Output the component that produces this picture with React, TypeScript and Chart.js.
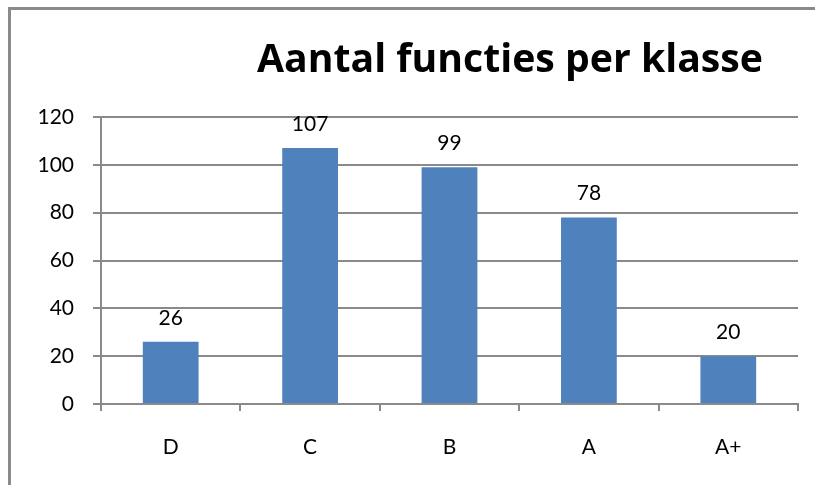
import React, { useEffect, useRef } from "react";
import { Chart, registerables } from "chart.js";

Chart.register(...registerables);

const categories = ["D", "C", "B", "A", "A+"];
const counts = [26, 107, 99, 78, 20];
const titleText = "Aantal functies per klasse";
const yMin = 0;
const yMax = 120;
const yStep = 20;

const FONT = "Lato, 'Open Sans', 'Noto Sans', sans-serif";
const TITLE_FONT = "'Open Sans', 'Noto Sans', sans-serif";
const GRID = "#8a8a8a";

const framePlugin = {
  id: "frame",
  beforeDraw(chart: any) {
    const ctx = chart.ctx;
    ctx.save();
    ctx.fillStyle = "#ffffff";
    ctx.fillRect(0, 0, chart.width, chart.height);
    ctx.strokeStyle = GRID;
    ctx.lineWidth = 3;
    ctx.beginPath();
    ctx.moveTo(9.5, chart.height);
    ctx.lineTo(9.5, 8.5);
    ctx.lineTo(chart.width, 8.5);
    ctx.stroke();
    ctx.restore();
  },
  afterDraw(chart: any) {
    const ctx = chart.ctx;
    ctx.save();
    ctx.fillStyle = "#000000";
    ctx.font = `bold 40px ${TITLE_FONT}`;
    const w = ctx.measureText(titleText).width;
    const size = (40 * 506) / w;
    ctx.font = `bold ${size.toFixed(1)}px ${TITLE_FONT}`;
    ctx.textAlign = "center";
    ctx.textBaseline = "alphabetic";
    ctx.fillText(titleText, 510, 72);
    ctx.font = `21px ${FONT}`;
    const meta = chart.getDatasetMeta(0);
    meta.data.forEach((bar: any, i: number) => {
      ctx.fillText(String(counts[i]), bar.x, bar.y - 17);
    });
    ctx.restore();
  },
};

export default function App() {
  const ref = useRef<HTMLCanvasElement>(null);
  useEffect(() => {
    if (!ref.current) return;
    const chart = new Chart(ref.current, {
      type: "bar",
      data: {
        labels: categories,
        datasets: [
          {
            data: counts,
            backgroundColor: "#4F81BD",
            borderWidth: 0,
            barPercentage: 0.4,
            categoryPercentage: 1,
          },
        ],
      },
      options: {
        animation: false,
        responsive: false,
        maintainAspectRatio: false,
        layout: { padding: { top: 117, right: 17, bottom: 0, left: 0 } },
        plugins: {
          legend: { display: false },
          title: { display: false },
          tooltip: { enabled: false },
        },
        scales: {
          x: {
            offset: true,
            grid: {
              offset: true,
              drawOnChartArea: false,
              drawTicks: true,
              tickLength: 7,
              color: GRID,
              lineWidth: 2,
            },
            border: { display: true, color: GRID, width: 2 },
            ticks: {
              color: "#000000",
              font: { family: FONT, size: 21 },
              padding: 24,
            },
            afterFit(scale: any) {
              scale.height = 81;
            },
          },
          y: {
            min: yMin,
            max: yMax,
            grid: {
              color: GRID,
              lineWidth: 2,
              tickLength: 8,
            },
            border: { display: true, color: GRID, width: 2 },
            ticks: {
              stepSize: yStep,
              color: "#000000",
              font: { family: FONT, size: 21 },
              padding: 19,
            },
            afterFit(scale: any) {
              scale.width = 101;
            },
          },
        },
      },
      plugins: [framePlugin],
    });
    return () => chart.destroy();
  }, []);
  return (
    <div style={{ position: "fixed", left: 0, top: 0, width: 815, height: 485 }}>
      <canvas ref={ref} width={815} height={485} style={{ display: "block" }} />
    </div>
  );
}
